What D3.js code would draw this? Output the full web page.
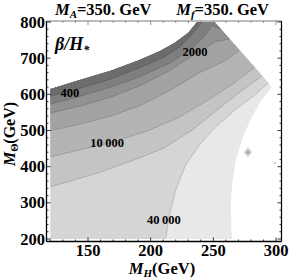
<!DOCTYPE html>
<html><head><meta charset="utf-8">
<script src="https://cdn.jsdelivr.net/npm/d3@7"></script>
<style>
html,body{margin:0;padding:0;background:#fff;}
svg{display:block;}
text{font-family:"Liberation Serif","DejaVu Serif",serif;}
</style></head>
<body>
<svg id="c" width="290" height="278"></svg>
<script>
// ---- data ----
const xTicks = [150, 200, 250, 300];
const yTicks = [200, 300, 400, 500, 600, 700, 800];
const contourLevels = [400, 1000, 2000, 5000, 10000, 20000, 40000];
// outline of the region where the contour plot is defined (M_H, M_Theta)
const regionOutline = [[120,200],[120,615],[144,640],[168,665],[191,695],[207,719],[219,742],[230,770],[237,800],
  [251,800],[297,620],[287,576],[279,524],[273,474],[268,418],[265,349],[264,280],[265,200]];
const line400   = [[120,595],[144,617],[168,642],[191,673],[211,703],[223,731],[232,761],[241,800]];
const line1000  = [[120,573],[144,595],[168,620],[191,648],[215,686],[231,722],[243,761],[249,790],[256,780]];
const line2000  = [[120,548],[144,568],[168,592],[191,623],[215,665],[235,711],[252,746],[263,753]];
const line5000  = [[120,499],[144,518],[168,540],[191,568],[215,610],[239,660],[259,692],[271,722]];
const line10000 = [[120,427],[144,447],[168,466],[199,501],[223,537],[247,587],[267,632],[283,675]];
const line20000 = [[120,344],[160,385],[191,424],[211,452],[233,501],[251,551],[271,606],[289,651]];
const line40000 = [[212,200],[215,266],[220,335],[228,405],[239,460],[251,507],[267,556],[283,598],[294,631]];
const contourLines = [line400, line1000, line2000, line5000, line10000, line20000, line40000];
// grey of each band, darkest (below 400) to lightest (above 40000)
const bandGrays = ["#6c6c6c","#7f7f7f","#919191","#a3a3a3","#b4b4b4","#c4c4c4","#d5d5d5","#e8e8e8"];
// small island near the right edge
const islandOuter = [[274.3,440],[277.6,453],[280.9,440],[277.6,427]];
const islandInner = [[276.6,440],[277.6,444],[278.6,440],[277.6,436]];
const speck = [299.2, 410];
const labelText = ["400", "2000", "10\u2009000", "40\u2009000"];
const labelMH = [135.6, 235.3, 165.2, 210.6];
const labelMT = [603.7, 717, 465.4, 252.5];

// ---- drawing ----
const svg = d3.select("#c");
const x = d3.scaleLinear().domain([120, 300]).range([50.4, 276]);
const y = d3.scaleLinear().domain([200, 800]).range([239, 22]);
const fx0 = 46.5, fx1 = 281.5, fy0 = 21, fy1 = 241.5;

const line = d3.line().x(d => x(d[0])).y(d => y(d[1]));
svg.append("clipPath").attr("id","reg").append("path")
  .attr("d", line(regionOutline) + "Z");
const g = svg.append("g").attr("clip-path","url(#reg)");
g.append("path").attr("d", line(regionOutline) + "Z").attr("fill", bandGrays[7]);
for (let k = contourLines.length - 1; k >= 0; k--) {
  const c = contourLines[k];
  const s = c[0], e = c[c.length - 1];
  const fromBottom = s[1] < 210;
  const poly = c.concat([[e[0] + 30, 950], [90, 950], [90, fromBottom ? 150 : s[1]], [s[0], fromBottom ? 150 : s[1]]]);
  g.append("path").attr("d", line(poly) + "Z").attr("fill", bandGrays[k]);
}
contourLines.forEach(c => {
  g.append("path").attr("d", line(c)).attr("fill","none")
   .attr("stroke","#000").attr("stroke-opacity",0.22).attr("stroke-width",0.7);
});
svg.append("path").attr("d", line(islandOuter)+"Z").attr("fill","#cdcdcd");
svg.append("path").attr("d", line(islandInner)+"Z").attr("fill","#8a8a8a");
svg.append("rect").attr("x",x(speck[0])-0.7).attr("y",y(speck[1])-0.7).attr("width",1.4).attr("height",1.4).attr("fill","#999");

// contour labels
svg.selectAll("text.cl").data(labelText).enter().append("text")
  .attr("x",(d,i)=>x(labelMH[i])).attr("y",(d,i)=>y(labelMT[i]))
  .attr("text-anchor","middle").attr("dominant-baseline","central")
  .attr("font-size",12.5).attr("font-weight","bold").text(d=>d);

// beta/H* label
const bl = svg.append("text").attr("x",55).attr("y",50).attr("font-size",18)
  .attr("font-style","italic").attr("font-weight","bold");
bl.append("tspan").text("\u03B2/H");
bl.append("tspan").attr("font-size",12).attr("dy",4).text("*");

// frame
const fr = svg.append("g").attr("stroke","#000").attr("stroke-width",1).attr("fill","none");
fr.append("line").attr("x1",fx0).attr("x2",fx0).attr("y1",fy0).attr("y2",fy1).attr("stroke-width",1.3);
fr.append("line").attr("x1",fx0).attr("x2",fx1).attr("y1",fy1).attr("y2",fy1).attr("stroke-width",1.3);
fr.append("line").attr("x1",fx1).attr("x2",fx1).attr("y1",fy0).attr("y2",fy1).attr("stroke-width",1.2);
fr.append("line").attr("x1",fx0).attr("x2",fx1).attr("y1",fy0).attr("y2",fy0).attr("stroke","#777");

// ticks
const xMinor = d3.range(120, 301, 10), yMinor = d3.range(200, 801, 20);
const tk = svg.append("g").attr("stroke","#000").attr("stroke-width",0.8);
xMinor.forEach(v => {
  const L = xTicks.includes(v) ? 4 : 2;
  tk.append("line").attr("x1",x(v)).attr("x2",x(v)).attr("y1",fy1).attr("y2",fy1-L);
  tk.append("line").attr("x1",x(v)).attr("x2",x(v)).attr("y1",fy0).attr("y2",fy0+L).attr("stroke","#777");
});
yMinor.forEach(v => {
  const L = yTicks.includes(v) ? 4 : 2;
  tk.append("line").attr("y1",y(v)).attr("y2",y(v)).attr("x1",fx0).attr("x2",fx0+L);
  tk.append("line").attr("y1",y(v)).attr("y2",y(v)).attr("x1",fx1).attr("x2",fx1-L);
});
svg.selectAll("text.xt").data(xTicks).enter().append("text")
  .attr("x",d=>x(d)).attr("y",255.5).attr("text-anchor","middle")
  .attr("font-size",16.5).attr("font-weight","bold").text(d=>d);
svg.selectAll("text.yt").data(yTicks).enter().append("text")
  .attr("x",45).attr("y",d=>y(d)).attr("text-anchor","end").attr("dominant-baseline","central")
  .attr("font-size",16.5).attr("font-weight","bold").text(d=>d);

// axis titles
const xt = svg.append("text").attr("x",162).attr("y",274).attr("text-anchor","middle")
  .attr("font-size",16.5).attr("font-weight","bold");
xt.append("tspan").attr("font-style","italic").text("M");
xt.append("tspan").attr("font-style","italic").attr("font-size",11).attr("dy",3).text("H");
xt.append("tspan").attr("dy",-3).text("(GeV)");
const yt = svg.append("text").attr("transform","translate(14.5,134) rotate(-90)").attr("text-anchor","middle")
  .attr("font-size",16).attr("font-weight","bold");
yt.append("tspan").attr("font-style","italic").text("M");
yt.append("tspan").attr("font-size",10.5).attr("dy",3).text("\u0398");
yt.append("tspan").attr("dy",-3).text("(GeV)");

// title
const tt = svg.append("text").attr("x",162).attr("y",15).attr("text-anchor","middle")
  .attr("font-size",16.5).attr("font-weight","bold").attr("xml:space","preserve");
tt.append("tspan").attr("font-style","italic").text("M");
tt.append("tspan").attr("font-style","italic").attr("font-size",11).attr("dy",3).text("A");
tt.append("tspan").attr("dy",-3).text("=350. GeV\u2003\u2002");
tt.append("tspan").attr("font-style","italic").text("M");
tt.append("tspan").attr("font-style","italic").attr("font-size",11).attr("dy",3).text("f");
tt.append("tspan").attr("dy",-3).text("=350. GeV");
</script>
</body></html>
